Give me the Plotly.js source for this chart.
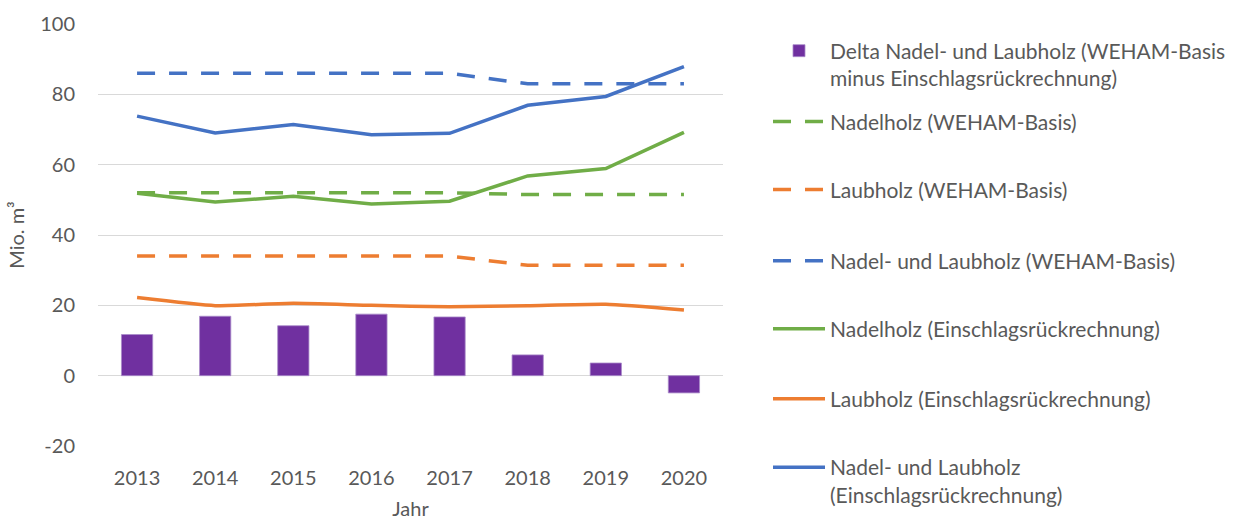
<!DOCTYPE html>
<html>
<head>
<meta charset="utf-8">
<script src="https://cdn.plot.ly/plotly-3.0.1.min.js"></script>
<style>html,body{margin:0;padding:0;background:#fff;}#chart{width:1237px;height:520px;}</style>
</head>
<body>
<div id="chart"></div>
<script>
// ---- data ----
const years = ['2013','2014','2015','2016','2017','2018','2019','2020'];
const deltaGesamt = [11.7, 16.9, 14.2, 17.5, 16.7, 5.9, 3.6, -4.9];
const nadelWeham = [52, 52, 52, 52, 52, 51.5, 51.5, 51.5];
const laubWeham = [34, 34, 34, 34, 34, 31.4, 31.4, 31.4];
const gesamtWeham = [86, 86, 86, 86, 86, 83, 83, 83];
const nadelEinschlag = [51.9, 49.4, 51, 48.8, 49.6, 56.8, 58.9, 69.2];
const laubEinschlag = [22.2, 19.9, 20.6, 20.0, 19.6, 19.9, 20.3, 18.7];
const gesamtEinschlag = [73.8, 69.0, 71.4, 68.5, 68.9, 76.9, 79.4, 87.9];
const yTicks = [-20, 0, 20, 40, 60, 80, 100];
const yTickText = ['-20', '0', '20', '40', '60', '80', '100'];

const names = [
  'Delta Nadel- und Laubholz (WEHAM-Basis<br>minus Einschlagsrückrechnung)',
  'Nadelholz (WEHAM-Basis)',
  'Laubholz (WEHAM-Basis)',
  'Nadel- und Laubholz (WEHAM-Basis)',
  'Nadelholz (Einschlagsrückrechnung)',
  'Laubholz (Einschlagsrückrechnung)',
  'Nadel- und Laubholz<br>(Einschlagsrückrechnung)'
];

const C = {blue:'#4472C4', green:'#70AD47', orange:'#ED7D31', purple:'#7030A0'};
const FONT = 'Lato, "Open Sans", sans-serif';
const GREY = '#595959';
const dashStyle = '18px,14px';
const LW = 3.5;

const traces = [
  {type:'bar', x:years, y:deltaGesamt, name:names[0], marker:{color:C.purple, line:{color:'#a98bc9', width:0.8}}, legend:'legend'},
  {type:'scatter', mode:'lines', x:years, y:nadelWeham, name:names[1], line:{color:C.green, width:LW, dash:dashStyle}, legend:'legend2'},
  {type:'scatter', mode:'lines', x:years, y:laubWeham, name:names[2], line:{color:C.orange, width:LW, dash:dashStyle}, legend:'legend3'},
  {type:'scatter', mode:'lines', x:years, y:gesamtWeham, name:names[3], line:{color:C.blue, width:LW, dash:dashStyle}, legend:'legend4'},
  {type:'scatter', mode:'lines', x:years, y:nadelEinschlag, name:names[4], line:{color:C.green, width:LW}, legend:'legend5'},
  {type:'scatter', mode:'lines', x:years, y:laubEinschlag, name:names[5], line:{color:C.orange, width:LW, shape:'spline', smoothing:0.5}, legend:'legend6'},
  {type:'scatter', mode:'lines', x:years, y:gesamtEinschlag, name:names[6], line:{color:C.blue, width:LW}, legend:'legend7'}
];

const legendYs = [0.904, 0.768, 0.607, 0.438, 0.277, 0.111, -0.083];
function mkLegend(y){
  return {x:1.072, xanchor:'left', y:y, yanchor:'middle', bgcolor:'rgba(0,0,0,0)',
          font:{family:FONT, size:21, color:GREY}, itemwidth:52, valign:'top'};
}

const layout = {
  width:1237, height:520,
  margin:{l:98, r:514, t:24, b:74, autoexpand:false},
  paper_bgcolor:'#fff', plot_bgcolor:'#fff',
  font:{family:FONT, color:GREY, size:20},
  bargap:0.6,
  showlegend:true,
  xaxis:{type:'category', showgrid:false, zeroline:false, showline:false, ticks:'', automargin:false,
         tickfont:{family:FONT, size:20, color:GREY}, ticklabelstandoff:18,
         title:{text:'Jahr', font:{family:FONT, size:20, color:GREY}, standoff:14}},
  yaxis:{range:[-20,100], tickvals:yTicks, ticktext:yTickText, showgrid:true, gridcolor:'#d9d9d9', gridwidth:1,
         automargin:false,
         zeroline:true, zerolinecolor:'#d9d9d9', zerolinewidth:1, showline:false, ticks:'',
         tickfont:{family:FONT, size:20, color:GREY}, ticklabelstandoff:22,
         title:{text:'Mio. m³', font:{family:FONT, size:20, color:GREY}, standoff:10}}
};
layout.legend = mkLegend(legendYs[0]);
for (let i=1;i<7;i++) layout['legend'+(i+1)] = mkLegend(legendYs[i]);

Plotly.newPlot('chart', traces, layout, {displayModeBar:false, staticPlot:true});
</script>
</body>
</html>
